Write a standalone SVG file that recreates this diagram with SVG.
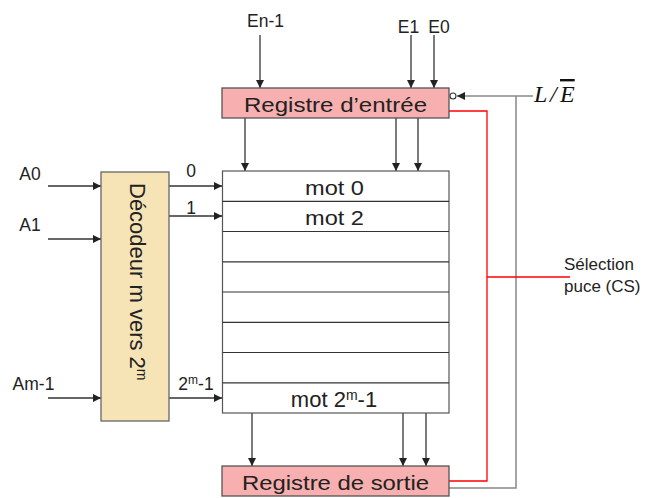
<svg xmlns="http://www.w3.org/2000/svg" width="650" height="498" viewBox="0 0 650 498">
<defs>
<style>
.t{font-family:"Liberation Sans",Arial,sans-serif;fill:#222;}
.lbl{font-size:17.5px;}
.big{font-size:21px;}
.reg{fill:#F7AFAF;stroke:#555;stroke-width:1.3;}
.dec{fill:#F6E4B6;stroke:#666;stroke-width:1.3;}
.mem{fill:#fff;stroke:#555;stroke-width:1.2;}
.row{stroke:#333;stroke-width:1.2;}
.w{fill:none;stroke:#333;stroke-width:1.3;}
.g{fill:none;stroke:#888;stroke-width:1.5;}
.r{fill:none;stroke:#F00;stroke-width:1.3;}
</style>
<marker id="ah" viewBox="0 0 10 10" refX="10" refY="5" markerWidth="8" markerHeight="8" markerUnits="userSpaceOnUse" orient="auto">
<path d="M0,0 L10,5 L0,10 z" fill="#222"/>
</marker>
</defs>
<rect width="650" height="498" fill="#fff"/>

<g id="connectors">
<line class="w" x1="260" y1="35" x2="260" y2="88" marker-end="url(#ah)"/>
<line class="w" x1="411" y1="35" x2="411" y2="88" marker-end="url(#ah)"/>
<line class="w" x1="434" y1="35" x2="434" y2="88" marker-end="url(#ah)"/>
<line class="g" x1="533" y1="96" x2="457" y2="96" marker-end="url(#ah)"/>
<polyline class="g" points="516,96 516,488 449,488"/>
<polyline class="r" points="449,111 487,111 487,481 449,481"/>
<line class="r" x1="487" y1="277" x2="570" y2="277"/>
<line class="w" x1="245" y1="118" x2="245" y2="171" marker-end="url(#ah)"/>
<line class="w" x1="396" y1="118" x2="396" y2="171" marker-end="url(#ah)"/>
<line class="w" x1="418" y1="118" x2="418" y2="171" marker-end="url(#ah)"/>
<line class="w" x1="252" y1="413" x2="252" y2="466" marker-end="url(#ah)"/>
<line class="w" x1="403" y1="413" x2="403" y2="466" marker-end="url(#ah)"/>
<line class="w" x1="426" y1="413" x2="426" y2="466" marker-end="url(#ah)"/>
<line class="w" x1="48" y1="186" x2="101" y2="186" marker-end="url(#ah)"/>
<line class="w" x1="48" y1="239" x2="101" y2="239" marker-end="url(#ah)"/>
<line class="w" x1="48" y1="398" x2="101" y2="398" marker-end="url(#ah)"/>
<line class="w" x1="169" y1="186" x2="222" y2="186" marker-end="url(#ah)"/>
<line class="w" x1="169" y1="216" x2="222" y2="216" marker-end="url(#ah)"/>
<line class="w" x1="169" y1="398" x2="222" y2="398" marker-end="url(#ah)"/>
</g>

<g id="inputs-labels">
<text class="t lbl" x="265.5" y="27" text-anchor="middle">En-1</text>
<text class="t lbl" x="408.5" y="33" text-anchor="middle">E1</text>
<text class="t lbl" x="439" y="33" text-anchor="middle">E0</text>
<text class="t lbl" x="30" y="180" text-anchor="middle">A0</text>
<text class="t lbl" x="30" y="231" text-anchor="middle">A1</text>
<text class="t lbl" x="33.5" y="390" text-anchor="middle">Am-1</text>
<text class="t lbl" x="191" y="177" text-anchor="middle">0</text>
<text class="t lbl" x="191" y="214" text-anchor="middle">1</text>
<text class="t lbl" x="196" y="390" text-anchor="middle">2<tspan font-size="12" dy="-6">m</tspan><tspan dy="6">-1</tspan></text>
</g>

<g id="le-signal">
<circle cx="453" cy="96" r="3" fill="#fff" stroke="#333" stroke-width="1.1"/>
<text x="534" y="102" font-family="'Liberation Serif','Times New Roman',serif" font-style="italic" font-size="24" fill="#111">L<tspan x="550">/</tspan><tspan x="560" text-decoration="overline">E</tspan></text>
</g>

<g id="registre-entree">
<rect class="reg" x="222" y="88" width="227" height="30"/>
<text class="t big" x="335.5" y="112" text-anchor="middle" textLength="183" lengthAdjust="spacingAndGlyphs">Registre d’entrée</text>
</g>

<g id="memoire">
<rect class="mem" x="222.5" y="171" width="226.5" height="242"/>
<line class="row" x1="222.5" y1="201.3" x2="449" y2="201.3"/>
<line class="row" x1="222.5" y1="231.5" x2="449" y2="231.5"/>
<line class="row" x1="222.5" y1="261.8" x2="449" y2="261.8"/>
<line class="row" x1="222.5" y1="292" x2="449" y2="292"/>
<line class="row" x1="222.5" y1="322.3" x2="449" y2="322.3"/>
<line class="row" x1="222.5" y1="352.5" x2="449" y2="352.5"/>
<line class="row" x1="222.5" y1="382.8" x2="449" y2="382.8"/>
<text class="t big" x="334.5" y="195" text-anchor="middle" textLength="59" lengthAdjust="spacingAndGlyphs">mot 0</text>
<text class="t big" x="334.5" y="225" text-anchor="middle" textLength="59" lengthAdjust="spacingAndGlyphs">mot 2</text>
<text class="t" font-size="22" x="334" y="407" text-anchor="middle">mot 2<tspan font-size="14" dy="-7">m</tspan><tspan dy="7">-1</tspan></text>
</g>

<g id="decodeur">
<rect class="dec" x="101" y="172" width="68" height="249"/>
<text class="t" font-size="22" transform="translate(130,183) rotate(90)" x="0" y="0">Décodeur m vers 2<tspan font-size="14" dy="-7">m</tspan></text>
</g>

<g id="registre-sortie">
<rect class="reg" x="222" y="466" width="227" height="30"/>
<text class="t big" x="335.5" y="490" text-anchor="middle" textLength="187" lengthAdjust="spacingAndGlyphs">Registre de sortie</text>
</g>

<g id="selection">
<text class="t" font-size="17" x="564" y="270">Sélection</text>
<text class="t" font-size="17" x="564" y="292">puce (CS)</text>
</g>
</svg>
